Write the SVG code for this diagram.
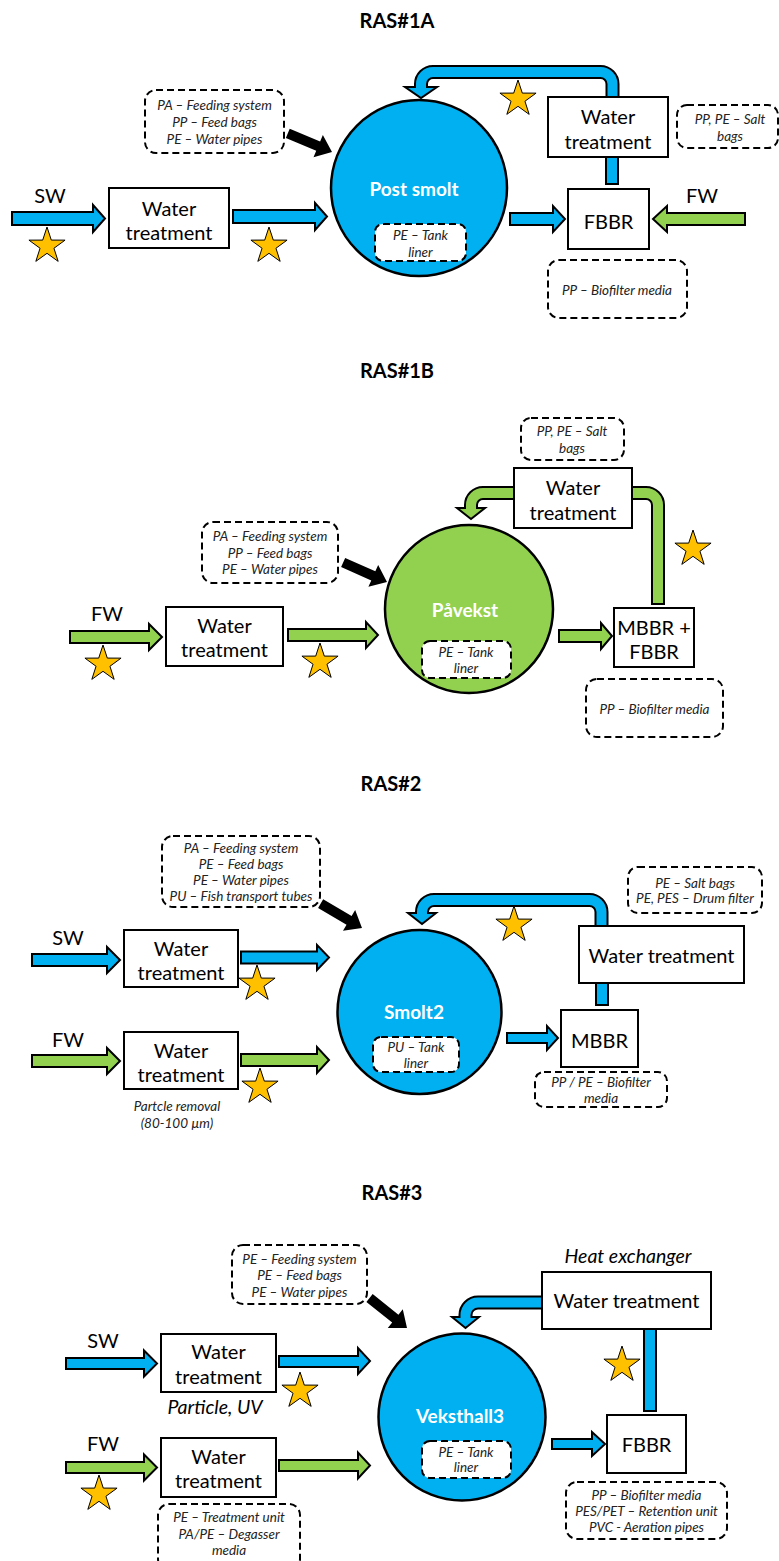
<svg xmlns="http://www.w3.org/2000/svg" xmlns:xlink="http://www.w3.org/1999/xlink" width="779" height="1561" viewBox="0 0 779 1561">
<style>
.bg{fill:#fff}
.box{fill:#fff;stroke:#000;stroke-width:2}
.dash{fill:none;stroke:#000;stroke-width:2;stroke-dasharray:7 4}
.dashw{fill:#fff;stroke:#000;stroke-width:2;stroke-dasharray:7 4}
.t{font-family:Lato,"Liberation Sans",sans-serif;font-size:20px;text-anchor:middle;dominant-baseline:central;fill:#000}
.i{font-style:italic;font-size:13.5px;fill:#222}
.title{font-weight:bold;font-size:20px}
.cl{font-weight:bold;fill:#fff;font-size:19px}
.big{font-style:italic;font-size:19.5px}
.ab{fill:#00B0F0;stroke:#000;stroke-width:2;stroke-linejoin:miter}
.ag{fill:#92D050;stroke:#000;stroke-width:2;stroke-linejoin:miter}
.sk{fill:none;stroke:#000;stroke-width:14}
.sb{fill:none;stroke:#00B0F0;stroke-width:10}
.sg{fill:none;stroke:#92D050;stroke-width:10}
.star{fill:#FFC000;stroke:#000;stroke-width:1}
.circb{fill:#00B0F0;stroke:#000;stroke-width:2.5}
.circg{fill:#92D050;stroke:#000;stroke-width:2.5}
</style>
<defs>
<polygon id="star" points="0,-19 4.29,-5.91 18.07,-5.87 6.94,2.26 11.17,15.37 0,7.3 -11.17,15.37 -6.94,2.26 -18.07,-5.87 -4.29,-5.91"/>
<polygon id="blk" points="-48,-5 -15,-5 -15,-12 0,0 -15,12 -15,5 -48,5" fill="#000"/>
</defs>
<rect class="bg" x="0" y="0" width="779" height="1561"/>

<g id="titles">
<text class="t title" x="397" y="20">RAS#1A</text>
<text class="t title" x="397" y="370">RAS#1B</text>
<text class="t title" x="391" y="783">RAS#2</text>
<text class="t title" x="392" y="1192">RAS#3</text>
</g>

<g id="connectors">
<!-- RAS#1A -->
<polygon class="ab" points="12,212 93,212 93,205 105,218.5 93,232 93,225 12,225"/>
<polygon class="ab" points="233,210 315,210 315,203 327,216.5 315,230 315,223 233,223"/>
<polygon class="ab" points="510,213 553,213 553,206 565,219 553,232 553,225 510,225"/>
<polygon class="ag" points="745,213 667,213 667,206 653,219 667,232 667,225 745,225"/>
<polygon class="ab" points="405,87 437,87 421,98"/>
<path class="sk" d="M612.5,100 V84 A12,12 0 0 0 600.5,72 H433 A12,12 0 0 0 421,84 V87"/>
<path class="sb" d="M612.5,100 V84 A12,12 0 0 0 600.5,72 H433 A12,12 0 0 0 421,84 V89"/>
<rect class="ab" x="606" y="156" width="12" height="28"/>
<use xlink:href="#blk" transform="translate(332,152) rotate(22.9)"/>
<!-- RAS#1B -->
<polygon class="ag" points="70,631 149,631 149,624 162,637 149,650 149,643 70,643"/>
<polygon class="ag" points="288,629 366,629 366,622 378,635 366,648 366,641 288,641"/>
<polygon class="ag" points="559,630 601,630 601,623 612,636 601,649 601,642 559,642"/>
<polygon class="ag" points="457,508 485,508 471,519"/>
<path class="sk" d="M516,493 H483 A12,12 0 0 0 471,505 V508"/>
<path class="sg" d="M516,493 H483 A12,12 0 0 0 471,505 V510"/>
<path class="sk" d="M630,493 H646 A12,12 0 0 1 658,505 V605"/>
<path class="sg" d="M630,493 H646 A12,12 0 0 1 658,505 V603"/>
<use xlink:href="#blk" transform="translate(387,582) rotate(24)"/>
<!-- RAS#2 -->
<polygon class="ab" points="32,954 107,954 107,947 120,960 107,973 107,966 32,966"/>
<polygon class="ab" points="241,951.5 317,951.5 317,945 329,957.5 317,970 317,963.5 241,963.5"/>
<polygon class="ag" points="32,1055 107,1055 107,1048 120,1061 107,1074 107,1067 32,1067"/>
<polygon class="ag" points="241,1054 317,1054 317,1047 329,1060 317,1073 317,1066 241,1066"/>
<polygon class="ab" points="507,1033 547,1033 547,1026 558,1038 547,1050 547,1043 507,1043"/>
<polygon class="ab" points="408,913 436,913 422,924"/>
<path class="sk" d="M601.5,928 V912 A12,12 0 0 0 589.5,900 H434 A12,12 0 0 0 422,912 V913"/>
<path class="sb" d="M601.5,928 V912 A12,12 0 0 0 589.5,900 H434 A12,12 0 0 0 422,912 V915"/>
<rect class="ab" x="596" y="982" width="12" height="23"/>
<use xlink:href="#blk" transform="translate(362,928) rotate(30.5)"/>
<!-- RAS#3 -->
<polygon class="ab" points="66,1358 144,1358 144,1350.5 157,1363.5 144,1376.5 144,1369 66,1369"/>
<polygon class="ab" points="279,1356 358,1356 358,1348 370,1361 358,1374 358,1367 279,1367"/>
<polygon class="ag" points="66,1462 144,1462 144,1454.5 157,1467.5 144,1480.5 144,1473 66,1473"/>
<polygon class="ag" points="279,1460 358,1460 358,1452.5 370,1465.5 358,1478.5 358,1471 279,1471"/>
<polygon class="ab" points="552,1439 592,1439 592,1432 605,1444 592,1456 592,1449 552,1449"/>
<polygon class="ab" points="452,1317 479,1317 465.5,1328"/>
<path class="sk" d="M544,1302.5 H478 A12.5,12.5 0 0 0 465.5,1315 V1317"/>
<path class="sb" d="M544,1302.5 H478 A12.5,12.5 0 0 0 465.5,1315 V1319"/>
<rect class="ab" x="644" y="1328" width="12" height="83"/>
<use xlink:href="#blk" transform="translate(407,1328) rotate(38.7)"/>
</g>

<g id="stars">
<use xlink:href="#star" class="star" transform="translate(47,246)"/>
<use xlink:href="#star" class="star" transform="translate(269,246)"/>
<use xlink:href="#star" class="star" transform="translate(518,99)"/>
<use xlink:href="#star" class="star" transform="translate(103,664)"/>
<use xlink:href="#star" class="star" transform="translate(320,662)"/>
<use xlink:href="#star" class="star" transform="translate(693,549)"/>
<use xlink:href="#star" class="star" transform="translate(257,984)"/>
<use xlink:href="#star" class="star" transform="translate(260,1087)"/>
<use xlink:href="#star" class="star" transform="translate(514,925)"/>
<use xlink:href="#star" class="star" transform="translate(300,1391)"/>
<use xlink:href="#star" class="star" transform="translate(99,1494)"/>
<use xlink:href="#star" class="star" transform="translate(622,1365)"/>
</g>

<!-- RAS#1A nodes -->
<g id="r1a-sw"><text class="t" x="50" y="195">SW</text></g>
<g id="r1a-fw"><text class="t" x="702" y="195">FW</text></g>
<g id="r1a-wt1"><rect class="box" x="109" y="188" width="120" height="60"/><text class="t" x="169" y="208">Water</text><text class="t" x="169" y="232">treatment</text></g>
<g id="r1a-feed"><rect class="dash" x="145" y="90" width="139" height="63" rx="11"/><text class="t i" x="214.5" y="105">PA – Feeding system</text><text class="t i" x="214.5" y="122">PP – Feed bags</text><text class="t i" x="214.5" y="139">PE – Water pipes</text></g>
<g id="r1a-tank"><circle class="circb" cx="419" cy="188" r="88"/><text class="t cl" x="414" y="188">Post smolt</text></g>
<g id="r1a-liner"><rect class="dashw" x="375" y="224" width="91" height="37" rx="8"/><text class="t i" x="420.5" y="235">PE – Tank</text><text class="t i" x="420.5" y="252">liner</text></g>
<g id="r1a-wt2"><rect class="box" x="548" y="97" width="120" height="60"/><text class="t" x="608" y="116">Water</text><text class="t" x="608" y="141">treatment</text></g>
<g id="r1a-salt"><rect class="dash" x="677" y="105" width="101" height="43" rx="10"/><text class="t i" x="730" y="119">PP, PE – Salt</text><text class="t i" x="730" y="136">bags</text></g>
<g id="r1a-fbbr"><rect class="box" x="568" y="189" width="81" height="60"/><text class="t" x="608.5" y="221">FBBR</text></g>
<g id="r1a-bio"><rect class="dash" x="548" y="260" width="139" height="58" rx="11"/><text class="t i" x="617" y="290">PP – Biofilter media</text></g>

<!-- RAS#1B nodes -->
<g id="r1b-fw"><text class="t" x="107" y="613">FW</text></g>
<g id="r1b-wt1"><rect class="box" x="166" y="607" width="117" height="59"/><text class="t" x="224.5" y="625">Water</text><text class="t" x="224.5" y="649">treatment</text></g>
<g id="r1b-feed"><rect class="dash" x="202" y="522" width="136" height="61" rx="11"/><text class="t i" x="270" y="536">PA – Feeding system</text><text class="t i" x="270" y="553">PP – Feed bags</text><text class="t i" x="270" y="569">PE – Water pipes</text></g>
<g id="r1b-tank"><circle class="circg" cx="469" cy="609" r="84"/><text class="t cl" x="465" y="609">Påvekst</text></g>
<g id="r1b-liner"><rect class="dashw" x="422" y="641" width="89" height="37" rx="8"/><text class="t i" x="466" y="652">PE – Tank</text><text class="t i" x="466" y="668">liner</text></g>
<g id="r1b-salt"><rect class="dash" x="521" y="418" width="103" height="42" rx="10"/><text class="t i" x="572" y="431">PP, PE – Salt</text><text class="t i" x="572" y="448">bags</text></g>
<g id="r1b-wt2"><rect class="box" x="514" y="468" width="118" height="60"/><text class="t" x="573" y="487">Water</text><text class="t" x="573" y="512">treatment</text></g>
<g id="r1b-mbbr"><rect class="box" x="614" y="608" width="80" height="59"/><text class="t" x="654" y="627">MBBR +</text><text class="t" x="654" y="651">FBBR</text></g>
<g id="r1b-bio"><rect class="dash" x="586" y="679" width="137" height="58" rx="11"/><text class="t i" x="654.5" y="709">PP – Biofilter media</text></g>

<!-- RAS#2 nodes -->
<g id="r2-sw"><text class="t" x="68" y="937">SW</text></g>
<g id="r2-fw"><text class="t" x="68" y="1039">FW</text></g>
<g id="r2-wt1"><rect class="box" x="124" y="930" width="114" height="57"/><text class="t" x="181" y="948">Water</text><text class="t" x="181" y="972">treatment</text></g>
<g id="r2-wt2"><rect class="box" x="124" y="1032" width="114" height="57"/><text class="t" x="181" y="1050">Water</text><text class="t" x="181" y="1074">treatment</text></g>
<g id="r2-note"><text class="t i" x="177" y="1106">Partcle removal</text><text class="t i" x="177" y="1123">(80-100 µm)</text></g>
<g id="r2-feed"><rect class="dash" x="162" y="836" width="158" height="71" rx="11"/><text class="t i" x="241" y="848">PA – Feeding system</text><text class="t i" x="241" y="864">PE – Feed bags</text><text class="t i" x="241" y="880">PE – Water pipes</text><text class="t i" x="241" y="896">PU – Fish transport tubes</text></g>
<g id="r2-tank"><circle class="circb" cx="419.5" cy="1012" r="82"/><text class="t cl" x="414" y="1011">Smolt2</text></g>
<g id="r2-liner"><rect class="dashw" x="373" y="1037" width="86" height="35" rx="8"/><text class="t i" x="416" y="1047">PU – Tank</text><text class="t i" x="416" y="1063">liner</text></g>
<g id="r2-salt"><rect class="dash" x="628" y="867" width="134" height="46" rx="10"/><text class="t i" x="695" y="883">PE – Salt bags</text><text class="t i" x="695" y="898">PE, PES – Drum filter</text></g>
<g id="r2-wt3"><rect class="box" x="579" y="926" width="165" height="57"/><text class="t" x="661.5" y="955">Water treatment</text></g>
<g id="r2-mbbr"><rect class="box" x="561" y="1010" width="77" height="57"/><text class="t" x="599.5" y="1040">MBBR</text></g>
<g id="r2-bio"><rect class="dash" x="535" y="1072" width="132" height="35" rx="9"/><text class="t i" x="601" y="1082">PP / PE – Biofilter</text><text class="t i" x="601" y="1098">media</text></g>

<!-- RAS#3 nodes -->
<g id="r3-sw"><text class="t" x="103" y="1340">SW</text></g>
<g id="r3-fw"><text class="t" x="103" y="1443">FW</text></g>
<g id="r3-feed"><rect class="dash" x="232" y="1245" width="135" height="59" rx="11"/><text class="t i" x="299.5" y="1259">PE – Feeding system</text><text class="t i" x="299.5" y="1275">PE – Feed bags</text><text class="t i" x="299.5" y="1292">PE – Water pipes</text></g>
<g id="r3-wt1"><rect class="box" x="161" y="1334" width="115" height="58"/><text class="t" x="218.5" y="1351">Water</text><text class="t" x="218.5" y="1376">treatment</text></g>
<g id="r3-note"><text class="t big" x="215" y="1406">Particle, UV</text></g>
<g id="r3-wt2"><rect class="box" x="161" y="1438" width="115" height="59"/><text class="t" x="218.5" y="1456">Water</text><text class="t" x="218.5" y="1480">treatment</text></g>
<g id="r3-treat"><rect class="dash" x="158" y="1504" width="142" height="66" rx="11"/><text class="t i" x="229" y="1517">PE – Treatment unit</text><text class="t i" x="229" y="1534">PA/PE – Degasser</text><text class="t i" x="229" y="1550">media</text></g>
<g id="r3-tank"><circle class="circb" cx="462" cy="1417" r="83.5"/><text class="t cl" x="460" y="1415">Veksthall3</text></g>
<g id="r3-liner"><rect class="dashw" x="422" y="1441" width="89" height="37" rx="8"/><text class="t i" x="466" y="1452">PE – Tank</text><text class="t i" x="466" y="1467">liner</text></g>
<g id="r3-heat"><text class="t big" x="628" y="1255">Heat exchanger</text></g>
<g id="r3-wt3"><rect class="box" x="542" y="1272" width="169" height="57"/><text class="t" x="626.5" y="1300">Water treatment</text></g>
<g id="r3-fbbr"><rect class="box" x="607" y="1415" width="79" height="58"/><text class="t" x="646.5" y="1444">FBBR</text></g>
<g id="r3-bio"><rect class="dash" x="566" y="1482" width="161" height="57" rx="11"/><text class="t i" x="646.5" y="1495">PP – Biofilter media</text><text class="t i" x="646.5" y="1511">PES/PET – Retention unit</text><text class="t i" x="646.5" y="1527">PVC - Aeration pipes</text></g>
</svg>
